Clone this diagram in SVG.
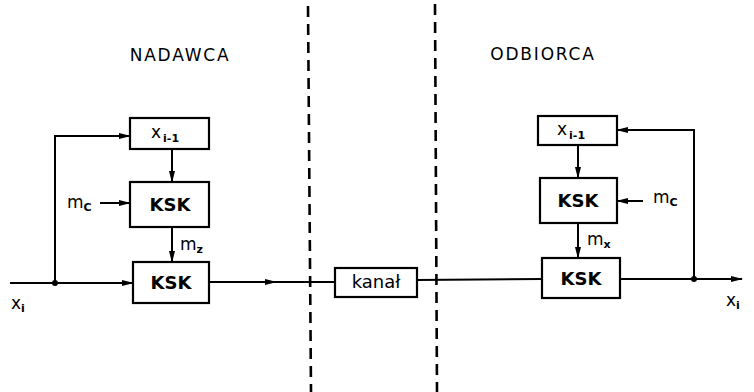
<svg xmlns="http://www.w3.org/2000/svg" width="754" height="392" viewBox="0 0 754 392">
<style>
.box{fill:#fff;stroke:#000;stroke-width:2.2}
.ln{fill:none;stroke:#000;stroke-width:2}
.dash{fill:none;stroke:#000;stroke-width:2.6;stroke-dasharray:11 7}
.t{font-family:"DejaVu Sans","Liberation Sans",sans-serif;fill:#000}
.title{font-size:17px;letter-spacing:1.8px}
.ksk{font-size:18px;font-weight:bold}
.lbl{font-size:17px}
.sub{font-size:11px;font-weight:bold}
</style>
<defs>
<marker id="ah" markerWidth="12" markerHeight="8" refX="11" refY="4" orient="auto" markerUnits="userSpaceOnUse">
<path d="M0,1 L12,4 L0,7 Z" fill="#000"/>
</marker>
</defs>
<rect width="754" height="392" fill="#fff"/>
<g id="dividers">
<line class="dash" x1="308" y1="6" x2="311" y2="392"/>
<line class="dash" x1="435" y1="4" x2="437" y2="392"/>
</g>
<g id="connectors">
<line class="ln" x1="10" y1="283" x2="133" y2="283" marker-end="url(#ah)"/>
<polyline class="ln" points="55,283 55,136 130,136" marker-end="url(#ah)"/>
<line class="ln" x1="172" y1="149" x2="172" y2="182" marker-end="url(#ah)"/>
<line class="ln" x1="100" y1="203" x2="130" y2="203" marker-end="url(#ah)"/>
<line class="ln" x1="172" y1="227" x2="172" y2="262" marker-end="url(#ah)"/>
<line class="ln" x1="209" y1="282" x2="276" y2="282" marker-end="url(#ah)"/>
<line class="ln" x1="270" y1="282" x2="335" y2="282"/>
<circle cx="55" cy="283" r="3" fill="#000"/>
<line class="ln" x1="417" y1="280" x2="542" y2="279"/>
<line class="ln" x1="620" y1="279" x2="742" y2="279" marker-end="url(#ah)"/>
<polyline class="ln" points="694,279 694,130 617,130" marker-end="url(#ah)"/>
<line class="ln" x1="578" y1="145" x2="578" y2="178" marker-end="url(#ah)"/>
<line class="ln" x1="643" y1="201" x2="617" y2="201" marker-end="url(#ah)"/>
<line class="ln" x1="578" y1="223" x2="578" y2="258" marker-end="url(#ah)"/>
<circle cx="694" cy="279" r="3" fill="#000"/>
</g>
<g id="nadawca-title"><text class="t title" x="180" y="61" text-anchor="middle">NADAWCA</text></g>
<g id="odbiorca-title"><text class="t title" x="543" y="60" text-anchor="middle">ODBIORCA</text></g>
<g id="n-xprev">
<rect class="box" x="130" y="118" width="79" height="31"/>
<text class="t lbl" x="151" y="138">x<tspan class="sub" font-size="12" dx="2" dy="4">i-1</tspan></text>
</g>
<g id="n-ksk1">
<rect class="box" x="130" y="182" width="79" height="45"/>
<text class="t ksk" x="170" y="211" text-anchor="middle">KSK</text>
</g>
<g id="n-ksk2">
<rect class="box" x="133" y="262" width="76" height="41"/>
<text class="t ksk" x="171" y="289" text-anchor="middle">KSK</text>
</g>
<g id="n-kanal">
<rect class="box" x="335" y="268" width="82" height="29"/>
<text class="t" font-size="18" x="376" y="288" text-anchor="middle">kanał</text>
</g>
<g id="o-xprev">
<rect class="box" x="538" y="116" width="79" height="29"/>
<text class="t lbl" x="557" y="135">x<tspan class="sub" font-size="12" dx="2" dy="4">i-1</tspan></text>
</g>
<g id="o-ksk1">
<rect class="box" x="540" y="178" width="77" height="45"/>
<text class="t ksk" x="578" y="207" text-anchor="middle">KSK</text>
</g>
<g id="o-ksk2">
<rect class="box" x="542" y="258" width="78" height="40"/>
<text class="t ksk" x="581" y="285" text-anchor="middle">KSK</text>
</g>
<g id="labels">
<text class="t lbl" x="67" y="208">m<tspan class="sub" font-size="14" dy="3">C</tspan></text>
<text class="t lbl" x="180" y="250">m<tspan class="sub" dy="3">z</tspan></text>
<text class="t lbl" x="11" y="309">x<tspan class="sub" dy="3">i</tspan></text>
<text class="t lbl" x="653" y="203">m<tspan class="sub" font-size="14" dy="3">C</tspan></text>
<text class="t lbl" x="587" y="245">m<tspan class="sub" dy="3">x</tspan></text>
<text class="t lbl" x="726" y="306">x<tspan class="sub" dy="3">i</tspan></text>
</g>
</svg>
